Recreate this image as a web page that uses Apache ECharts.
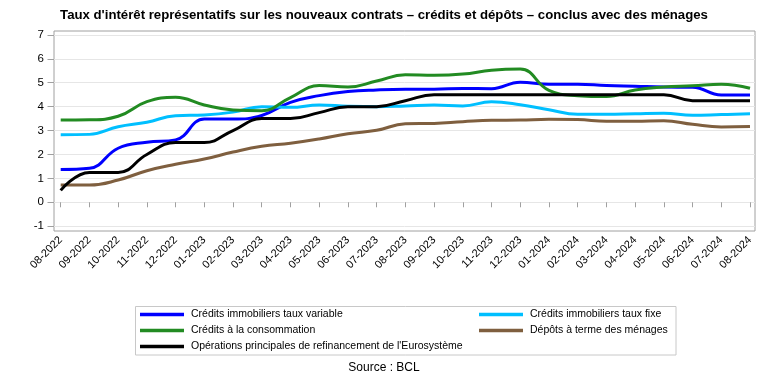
<!DOCTYPE html>
<html>
<head>
<meta charset="utf-8">
<script src="https://cdn.jsdelivr.net/npm/echarts@6/dist/echarts.min.js"></script>
<style>
html,body{margin:0;padding:0;background:#fff;}
#chart{width:768px;height:384px;}
</style>
</head>
<body>
<div id="chart"></div>
<script>
const categories = ['08-2022','09-2022','10-2022','11-2022','12-2022','01-2023','02-2023','03-2023','04-2023','05-2023','06-2023','07-2023','08-2023','09-2023','10-2023','11-2023','12-2023','01-2024','02-2024','03-2024','04-2024','05-2024','06-2024','07-2024','08-2024'];
const yTicks = [-1, 0, 1, 2, 3, 4, 5, 6, 7];

const creditsVariable = [1.37,1.42,2.26,2.51,2.61,3.48,3.48,3.63,4.18,4.46,4.63,4.70,4.73,4.73,4.76,4.75,5.02,4.94,4.94,4.88,4.85,4.82,4.81,4.49,4.49];
const creditsFixe = [2.82,2.84,3.16,3.35,3.62,3.65,3.77,4.00,3.97,4.07,4.02,4.00,4.03,4.07,4.03,4.20,4.08,3.87,3.68,3.68,3.70,3.72,3.64,3.67,3.70];
const creditsConso = [3.44,3.45,3.60,4.21,4.39,4.07,3.86,3.83,4.38,4.88,4.82,5.07,5.33,5.31,5.36,5.52,5.57,4.68,4.46,4.42,4.70,4.82,4.87,4.94,4.77];
const depotsTerme = [0.72,0.72,0.93,1.32,1.59,1.81,2.10,2.34,2.47,2.65,2.87,3.01,3.28,3.30,3.37,3.43,3.44,3.47,3.46,3.39,3.39,3.41,3.26,3.15,3.17];
const operationsEuro = [0.50,1.25,1.25,2.00,2.50,2.50,3.00,3.50,3.50,3.75,4.00,4.00,4.25,4.50,4.50,4.50,4.50,4.50,4.50,4.50,4.50,4.50,4.25,4.25,4.25];

const names = {
  variable: 'Crédits immobiliers taux variable',
  fixe: 'Crédits immobiliers taux fixe',
  conso: 'Crédits à la consommation',
  depots: 'Dépôts à terme des ménages',
  ope: "Opérations principales de refinancement de l'Eurosystème"
};

const FONT = '"Liberation Sans", Arial, sans-serif';
const yMin = yTicks[0], yMax = yTicks[yTicks.length - 1];

const chart = echarts.init(document.getElementById('chart'), null, {renderer: 'canvas'});

function lineSeries(name, data, color) {
  return {
    type: 'line', name: name, data: data,
    xAxisIndex: 2, yAxisIndex: 2,
    smooth: 0.45, showSymbol: false, symbol: 'none',
    lineStyle: {color: color, width: 3},
    itemStyle: {color: color},
    emphasis: {disabled: true},
    animation: false
  };
}

const legendText = {fontFamily: FONT, fontSize: 10.5, color: '#000', lineHeight: 12, padding: [0,0,0,2]};

const option = {
  backgroundColor: '#fff',
  animation: false,
  title: [
    {text: "Taux d'intérêt représentatifs sur les nouveaux contrats – crédits et dépôts – conclus avec des ménages",
     left: 'center', top: 9, padding: 0,
     textStyle: {fontFamily: FONT, fontSize: 13.2, fontWeight: 'bold', color: '#000'}},
    {text: 'Source : BCL', left: 'center', top: 362, padding: 0,
     textStyle: {fontFamily: FONT, fontSize: 12, fontWeight: 'normal', color: '#000'}}
  ],
  grid: [
    {left: 54, top: 31, width: 701, height: 200, show: true, borderColor: '#a0a0a0', borderWidth: 1, backgroundColor: 'transparent', containLabel: false, outerBoundsMode: 'none'},
    {left: 54, top: 34.9, width: 701, height: 191.3, containLabel: false, outerBoundsMode: 'none'},
    {left: 60.7, top: 34.9, width: 689.3, height: 191.3, containLabel: false, outerBoundsMode: 'none'}
  ],
  xAxis: [
    {gridIndex: 0, type: 'value', show: false},
    {gridIndex: 1, type: 'value', show: false},
    {gridIndex: 2, type: 'category', data: categories, boundaryGap: false, offset: 5,
     axisLine: {show: false},
     axisTick: {show: true, length: 5, lineStyle: {color: '#a0a0a0'}, alignWithLabel: true},
     axisLabel: {show: true, rotate: 45, interval: 0, margin: 7, fontFamily: FONT, fontSize: 11, color: '#000'},
     splitLine: {show: false}}
  ],
  yAxis: [
    {gridIndex: 0, type: 'value', show: false},
    {gridIndex: 1, type: 'value', min: yMin, max: yMax, interval: 1,
     axisLine: {show: false},
     axisTick: {show: true, length: 6.5, lineStyle: {color: '#a0a0a0'}},
     axisLabel: {show: true, margin: 10, fontFamily: FONT, fontSize: 11.5, color: '#000'},
     splitLine: {show: true, lineStyle: {color: '#e6e6e6', width: 1}}},
    {gridIndex: 2, type: 'value', min: yMin, max: yMax, interval: 1, show: false, splitLine: {show: false}}
  ],
  legend: [
    {left: 140, top: 308.5, orient: 'vertical', padding: 0, itemGap: 4,
     icon: 'rect', itemWidth: 44, itemHeight: 3.5, selectedMode: false,
     data: [names.variable, names.conso, names.ope], textStyle: legendText},
    {left: 479, top: 308.5, orient: 'vertical', padding: 0, itemGap: 4,
     icon: 'rect', itemWidth: 44, itemHeight: 3.5, selectedMode: false,
     data: [names.fixe, names.depots], textStyle: legendText}
  ],
  graphic: [
    {type: 'rect', shape: {x: 135.5, y: 306.5, width: 540.5, height: 48.5},
     style: {fill: 'none', stroke: '#c8c8c8', lineWidth: 1}, silent: true, z: -1}
  ],
  series: [
    lineSeries(names.variable, creditsVariable, '#0000ff'),
    lineSeries(names.fixe, creditsFixe, '#00bfff'),
    lineSeries(names.conso, creditsConso, '#228b22'),
    lineSeries(names.depots, depotsTerme, '#7f5f3f'),
    lineSeries(names.ope, operationsEuro, '#000000')
  ]
};
chart.setOption(option);
</script>
</body>
</html>
